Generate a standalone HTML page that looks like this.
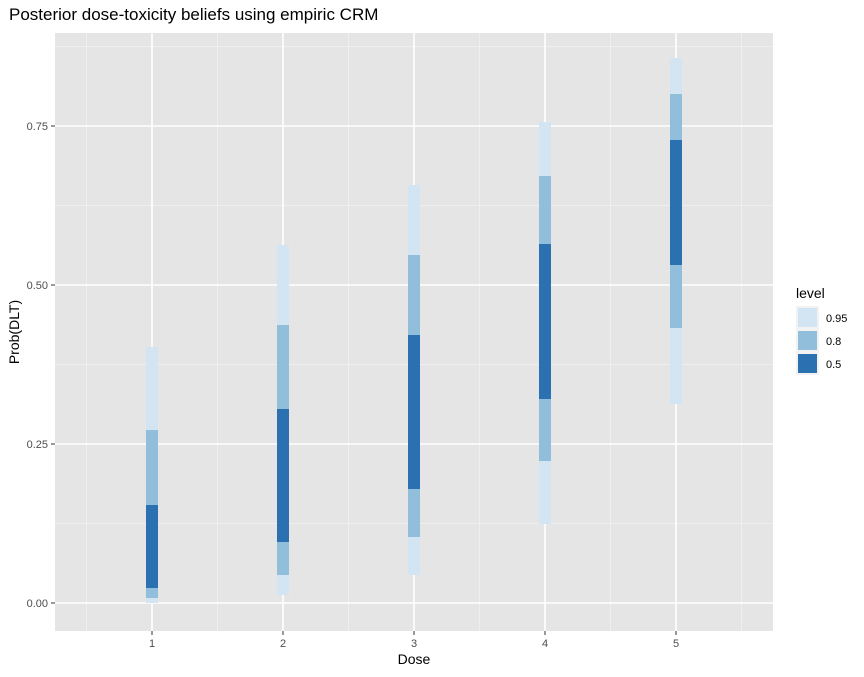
<!DOCTYPE html><html><head><style>body{margin:0;background:#fff}</style></head><body>
<svg width="864" height="672" xmlns="http://www.w3.org/2000/svg" font-family="Liberation Sans, sans-serif">
<text x="9" y="20" font-size="17" fill="#000">Posterior dose-toxicity beliefs using empiric CRM</text>
<rect x="55" y="33" width="718" height="598" fill="#e5e5e5"/>
<g stroke="#f2f2f2" stroke-width="0.8">
<line x1="55" x2="773" y1="523.5" y2="523.5"/><line x1="55" x2="773" y1="364.5" y2="364.5"/><line x1="55" x2="773" y1="205.5" y2="205.5"/><line x1="55" x2="773" y1="46.5" y2="46.5"/>
<line y1="33" y2="631" x1="86.5" x2="86.5"/><line y1="33" y2="631" x1="217.5" x2="217.5"/><line y1="33" y2="631" x1="348.5" x2="348.5"/><line y1="33" y2="631" x1="479.5" x2="479.5"/><line y1="33" y2="631" x1="610.5" x2="610.5"/><line y1="33" y2="631" x1="741.5" x2="741.5"/>
</g>
<g stroke="#fff" stroke-width="1.6">
<line x1="55" x2="773" y1="603" y2="603"/><line x1="55" x2="773" y1="444" y2="444"/><line x1="55" x2="773" y1="285" y2="285"/><line x1="55" x2="773" y1="126" y2="126"/>
<line y1="33" y2="631" x1="152" x2="152"/><line y1="33" y2="631" x1="283" x2="283"/><line y1="33" y2="631" x1="414" x2="414"/><line y1="33" y2="631" x1="545" x2="545"/><line y1="33" y2="631" x1="676" x2="676"/>
</g>
<g>
<rect x="146" y="347" width="12" height="256" fill="#d3e4f3"/><rect x="146" y="430" width="12" height="168" fill="#90bedb"/><rect x="146" y="505" width="12" height="83" fill="#2b71b2"/>
<rect x="277" y="245" width="12" height="350" fill="#d3e4f3"/><rect x="277" y="325" width="12" height="250" fill="#90bedb"/><rect x="277" y="409" width="12" height="133" fill="#2b71b2"/>
<rect x="408" y="185" width="12" height="390" fill="#d3e4f3"/><rect x="408" y="255" width="12" height="282" fill="#90bedb"/><rect x="408" y="335" width="12" height="154" fill="#2b71b2"/>
<rect x="539" y="122" width="12" height="402" fill="#d3e4f3"/><rect x="539" y="176" width="12" height="285" fill="#90bedb"/><rect x="539" y="244" width="12" height="155" fill="#2b71b2"/>
<rect x="670" y="58" width="12" height="346" fill="#d3e4f3"/><rect x="670" y="94" width="12" height="234" fill="#90bedb"/><rect x="670" y="140" width="12" height="125" fill="#2b71b2"/>
</g>
<g stroke="#333" stroke-width="1">
<line x1="51" x2="55" y1="603" y2="603"/><line x1="51" x2="55" y1="444" y2="444"/><line x1="51" x2="55" y1="285" y2="285"/><line x1="51" x2="55" y1="126" y2="126"/>
<line y1="631" y2="635" x1="152" x2="152"/><line y1="631" y2="635" x1="283" x2="283"/><line y1="631" y2="635" x1="414" x2="414"/><line y1="631" y2="635" x1="545" x2="545"/><line y1="631" y2="635" x1="676" x2="676"/>
</g>
<g font-size="11" fill="#4d4d4d" text-anchor="end">
<text x="48" y="607">0.00</text><text x="48" y="448">0.25</text><text x="48" y="289">0.50</text><text x="48" y="130">0.75</text>
</g>
<g font-size="11" fill="#4d4d4d" text-anchor="middle">
<text x="152" y="647">1</text><text x="283" y="647">2</text><text x="414" y="647">3</text><text x="545" y="647">4</text><text x="676" y="647">5</text>
</g>
<text x="414" y="664" font-size="14" text-anchor="middle">Dose</text>
<text transform="translate(19,332) rotate(-90)" font-size="14" text-anchor="middle">Prob(DLT)</text>
<text x="796" y="298" font-size="14">level</text>
<rect x="796" y="306" width="23" height="69" fill="#f2f2f2"/>
<rect x="798" y="308" width="19" height="19" fill="#d3e4f3"/><rect x="798" y="331" width="19" height="19" fill="#90bedb"/><rect x="798" y="354" width="19" height="19" fill="#2b71b2"/>
<g font-size="11" fill="#000"><text x="826" y="322">0.95</text><text x="826" y="345">0.8</text><text x="826" y="368">0.5</text></g>
</svg>
</body></html>
